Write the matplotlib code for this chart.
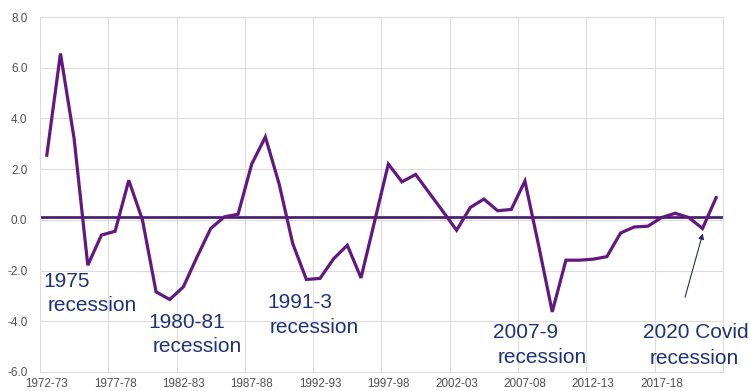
import matplotlib.pyplot as plt
from matplotlib.ticker import FixedLocator, FormatStrFormatter

# Financial years 1972-73 .. 2021-22
years = [f"{y}-{(y + 1) % 100:02d}" for y in range(1972, 2022)]

# Annual change (%)
values = [
    2.55, 6.56, 3.20, -1.79, -0.60, -0.45, 1.56, 0.00, -2.84, -3.14,
    -2.64, -1.46, -0.34, 0.12, 0.22, 2.20, 3.27, 1.43, -0.93, -2.35,
    -2.31, -1.53, -1.00, -2.29, -0.05, 2.20, 1.50, 1.79, 1.06, 0.33,
    -0.41, 0.49, 0.82, 0.36, 0.41, 1.53, -1.00, -3.63, -1.59, -1.59,
    -1.55, -1.45, -0.52, -0.28, -0.25, 0.09, 0.26, 0.09, -0.34, 0.88,
]

baseline = 0.12

# recession labels: (first line, second line, x of line 1, x of line 2, y of line 1, y of line 2)
notes = [
    ("1975", "recession", -0.28, 0.09, -2.65, -3.60),
    ("1980-81", "recession", 7.41, 7.77, -4.27, -5.22),
    ("1991-3", "recession", 16.12, 16.34, -3.48, -4.47),
    ("2007-9", "recession", 32.66, 33.03, -4.67, -5.65),
    ("2020 Covid", "recession", 43.65, 44.10, -4.67, -5.69),
]

plt.rcParams['font.family'] = ['Liberation Sans', 'DejaVu Sans']

fig = plt.figure(figsize=(7.5, 3.91), dpi=100)
ax = fig.add_axes([0.0533, 0.0486, 0.9107, 0.9079])

x = list(range(len(years)))
ax.plot(x, values, color='#62197F', lw=2.3, solid_joinstyle='miter', zorder=3)
ax.axhline(baseline, color='#431868', lw=1.9, zorder=2)

ax.set_xlim(-0.5, len(years) - 0.5)
ax.set_ylim(-6, 8)

# labels on every fifth year, gridlines on the category boundaries
ax.xaxis.set_major_locator(FixedLocator(x[::5]))
ax.set_xticklabels(years[::5])
ax.xaxis.set_minor_locator(FixedLocator([i - 0.5 for i in x[::5]] + [len(years) - 0.5]))
ax.set_yticks(range(-6, 9, 2))
ax.yaxis.set_major_formatter(FormatStrFormatter('%.1f'))

ax.grid(True, which='minor', axis='x', color='#dcdcdc', lw=0.8)
ax.grid(True, which='major', axis='y', color='#dcdcdc', lw=0.8)
ax.set_axisbelow(True)
ax.tick_params(which='both', length=0)
ax.tick_params(axis='x', labelsize=8.4, colors='#505050', pad=4)
ax.tick_params(axis='y', labelsize=8.5, colors='#505050', pad=9)
for s in ax.spines.values():
    s.set_color('#dcdcdc')
    s.set_linewidth(0.8)

navy = '#1e3278'
for l1, l2, x1, x2, y1, y2 in notes:
    ax.text(x1, y1, l1, color=navy, fontsize=15, ha='left', va='baseline')
    ax.text(x2, y2, l2, color=navy, fontsize=15, ha='left', va='baseline')

ax.annotate('', xy=(48.02, -0.54), xytext=(46.72, -3.05),
            arrowprops=dict(arrowstyle='-|>', color='#2a2a6a', lw=0.8,
                            mutation_scale=8, shrinkA=0, shrinkB=0))

fig.savefig('out.png', dpi=100)
